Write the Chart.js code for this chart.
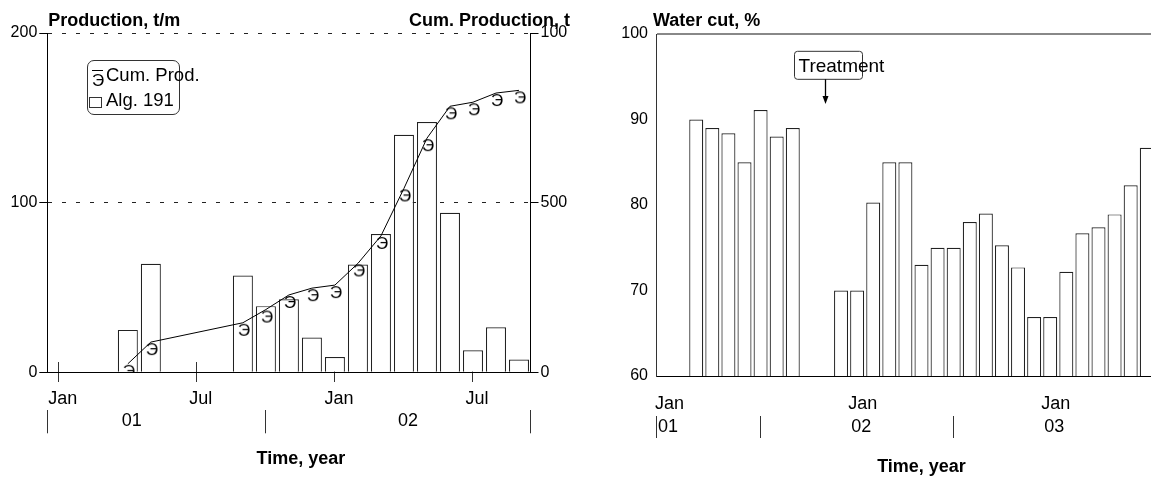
<!DOCTYPE html>
<html>
<head>
<meta charset="utf-8">
<script src="https://cdn.jsdelivr.net/npm/chart.js@4.4.1/dist/chart.umd.min.js"></script>
<style>
  html, body { margin: 0; padding: 0; background: #fff; overflow: hidden; }
  #wrap { position: relative; width: 1151px; height: 479px; overflow: hidden; background: #fff; }
  #c1 { position: absolute; left: 0; top: 0; }
  #c2 { position: absolute; left: 580px; top: 0; }
  .lg { position: absolute; font-family: "Liberation Sans", Arial, sans-serif; color: #000; white-space: nowrap; }
  #lgbox { left: 87px; top: 60px; width: 93px; height: 55px; box-sizing: border-box; border: 1px solid #333; border-radius: 7px; }
  #lgline { left: 92px; top: 70px; width: 11px; height: 0; border-top: 1px solid #000; }
  #lgmark { left: 92px; top: 72px; font-size: 17px; line-height: 18px; }
  #lgtxt1 { left: 106px; top: 65px; font-size: 18.5px; line-height: 20px; }
  #lgsq { left: 89px; top: 97px; width: 13px; height: 11px; box-sizing: border-box; border: 1px solid #333; }
  #lgtxt2 { left: 106px; top: 89.5px; font-size: 18.5px; line-height: 20px; }
</style>
</head>
<body>
<div id="wrap">
  <canvas id="c1" width="575" height="479"></canvas>
  <canvas id="c2" width="617" height="479"></canvas>
  <div class="lg" id="lgbox"></div>
  <div class="lg" id="lgline"></div>
  <div class="lg" id="lgmark">Э</div>
  <div class="lg" id="lgtxt1">Cum. Prod.</div>
  <div class="lg" id="lgsq"></div>
  <div class="lg" id="lgtxt2">Alg. 191</div>
</div>
<script>
// ---------- Left chart data (Jan 01 .. Sep 02, monthly) ----------
const months1 = ['Jan 01','Feb 01','Mar 01','Apr 01','May 01','Jun 01','Jul 01','Aug 01','Sep 01','Oct 01','Nov 01','Dec 01',
                 'Jan 02','Feb 02','Mar 02','Apr 02','May 02','Jun 02','Jul 02','Aug 02','Sep 02'];
const monthTickLabels1 = ['Jan','','','','','','Jul','','','','','','Jan','','','','','','Jul','',''];
const production = [null,null,null,25,64,null,null,null,57,39,43,20.5,9,63.5,81.5,140,147.5,94,13,26.5,7.5];
const cumProduction = [null,null,null,25,89,null,null,null,146,185,228,248,257,321,402,542,690,784,796,823,831];
const prodTicks = [0,100,200];
const cumTicks = [0,500,1000];
const cumTickLabels = ['0','500','100'];
const yearTicks1 = [-0.5,3,9,15,20.5];
const yearLabels1 = ['','01','','02',''];

// ---------- Right chart data (Jan 01 .. Sep 03, monthly) ----------
const months2 = ['Jan 01','Feb 01','Mar 01','Apr 01','May 01','Jun 01','Jul 01','Aug 01','Sep 01','Oct 01','Nov 01','Dec 01',
                 'Jan 02','Feb 02','Mar 02','Apr 02','May 02','Jun 02','Jul 02','Aug 02','Sep 02','Oct 02','Nov 02','Dec 02',
                 'Jan 03','Feb 03','Mar 03','Apr 03','May 03','Jun 03','Jul 03','Aug 03','Sep 03'];
const monthTickLabels2 = ['Jan','','','','','','','','','','','','Jan','','','','','','','','','','','','Jan','','','','','','','',''];
const waterCut = [null,null,90,89,88.4,85,91.1,88,89,null,null,
                  70,70,80.3,85,85,73,75,75,78,79,75.3,72.7,66.9,66.9,72.2,76.7,77.4,78.9,82.3,86.7,null,null];
const waterTicks = [60,70,80,90,100];
const yearTicks2 = [-0.5,0,6,12,18,24];
const yearLabels2 = ['','01','','02','','03'];
const treatmentIdx = 10;
const treatmentArrow = [94.7, 91.8];

const FONT = '"Liberation Sans", Arial, sans-serif';
Chart.defaults.font.family = FONT;
Chart.defaults.color = '#000';

function makeMarker() {
  const c = document.createElement('canvas');
  c.width = 18; c.height = 42;
  const g = c.getContext('2d');
  g.font = '17px ' + FONT;
  g.textAlign = 'center';
  g.textBaseline = 'middle';
  g.fillStyle = '#000';
  g.fillText('Э', 10, 29);
  return c;
}
const marker = makeMarker();

const headerPlugin = {
  id: 'headers',
  afterDraw(chart, args, opts) {
    const ctx = chart.ctx;
    const ca = chart.chartArea;
    ctx.save();
    ctx.font = 'bold 18px ' + FONT;
    ctx.fillStyle = '#000';
    ctx.textBaseline = 'alphabetic';
    if (opts.left) { ctx.textAlign = 'left'; ctx.fillText(opts.left, ca.left + (opts.leftShift || 0), opts.baseline); }
    if (opts.right) { ctx.textAlign = 'right'; ctx.fillText(opts.right, chart.width - opts.rightInset, opts.baseline); }
    if (opts.bottom) {
      ctx.textAlign = 'center';
      ctx.textBaseline = 'middle';
      ctx.fillText(opts.bottom, (ca.left + ca.right) / 2 + (opts.bottomShift || 0), opts.bottomY);
    }
    ctx.restore();
  }
};

const treatmentPlugin = {
  id: 'treatment',
  afterDatasetsDraw(chart) {
    const ctx = chart.ctx;
    const xs = chart.scales.x, ys = chart.scales.y;
    const x = Math.round(xs.getPixelForValue(treatmentIdx)) + 0.5;
    const yTop = ys.getPixelForValue(treatmentArrow[0]);
    const yBot = ys.getPixelForValue(treatmentArrow[1]);
    ctx.save();
    ctx.beginPath();
    ctx.roundRect(x - 31, yTop - 28, 68, 28, 3);
    ctx.fillStyle = '#fff';
    ctx.fill();
    ctx.lineWidth = 1;
    ctx.strokeStyle = '#333';
    ctx.stroke();
    ctx.font = '19px ' + FONT;
    ctx.fillStyle = '#000';
    ctx.textAlign = 'left';
    ctx.textBaseline = 'alphabetic';
    ctx.fillText('Treatment', x - 27, yTop - 7);
    ctx.beginPath();
    ctx.moveTo(x, yTop);
    ctx.lineTo(x, yBot - 6);
    ctx.lineWidth = 1.3;
    ctx.strokeStyle = '#000';
    ctx.stroke();
    ctx.beginPath();
    ctx.moveTo(x - 3, yBot - 8);
    ctx.lineTo(x + 3, yBot - 8);
    ctx.lineTo(x, yBot);
    ctx.closePath();
    ctx.fillStyle = '#000';
    ctx.fill();
    ctx.restore();
  }
};

// ---------- Left chart ----------
new Chart(document.getElementById('c1'), {
  data: {
    labels: months1,
    datasets: [
      {
        type: 'line', label: 'Cum. Prod.', data: cumProduction, yAxisID: 'y1',
        borderColor: '#000', borderWidth: 1, spanGaps: true, tension: 0, fill: false,
        pointStyle: marker, pointRadius: 6, pointHoverRadius: 6, order: 1
      },
      {
        type: 'bar', label: 'Alg. 191', data: production, yAxisID: 'y',
        backgroundColor: '#fff', borderColor: '#222', borderWidth: 1.2,
        categoryPercentage: 0.87, barPercentage: 1, order: 2
      }
    ]
  },
  options: {
    responsive: false, animation: false, events: [],
    layout: { padding: { top: 33, bottom: 0, left: 0, right: 0 } },
    plugins: {
      legend: { display: false }, tooltip: { enabled: false },
      headers: { left: 'Production, t/m', right: 'Cum. Production, t', baseline: 26, rightInset: 5, leftShift: 1,
                 bottom: 'Time, year', bottomShift: 12, bottomY: 459 }
    },
    scales: {
      x: {
        type: 'category', position: 'bottom', offset: true,
        grid: { display: false, offset: false, drawTicks: false },
        border: { display: true, color: '#000', width: 1 },
        ticks: { autoSkip: false, maxRotation: 0, padding: 16, labelOffset: 4, font: { size: 18 }, color: '#000',
                 callback: (v, i) => monthTickLabels1[i] },
        afterFit: s => { s.height = 38; }
      },
      xt: {
        type: 'category', position: { y: 5.8 }, offset: true,
        grid: { offset: false, drawOnChartArea: false, drawTicks: true, tickLength: 20, lineWidth: 1,
                color: ctx => monthTickLabels1[ctx.index] ? '#333' : 'transparent' },
        border: { display: false },
        ticks: { display: false, autoSkip: false }
      },
      xYear: {
        type: 'linear', position: 'bottom', min: -0.5, max: 20.5, offset: false,
        afterBuildTicks: s => { s.ticks = yearTicks1.map(v => ({ value: v })); },
        grid: { offset: false, drawOnChartArea: false, drawTicks: true, tickLength: 23, lineWidth: 1,
                color: ctx => yearLabels1[ctx.index] === '' ? '#333' : 'transparent' },
        border: { display: false },
        ticks: { autoSkip: false, maxRotation: 0, padding: -23, labelOffset: 4, font: { size: 18 }, color: '#000',
                 callback: (v, i) => yearLabels1[i] },
        afterFit: s => { s.height = 68.7; }
      },
      y: {
        type: 'linear', position: 'left', min: 0, max: 200,
        afterBuildTicks: s => { s.ticks = prodTicks.map(v => ({ value: v })); },
        grid: { color: ctx => (ctx.tick && ctx.tick.value === 0) ? 'transparent' : '#222', tickColor: '#000', tickLength: 8, lineWidth: 1 },
        border: { display: true, color: '#000', dash: [4, 10] },
        ticks: { padding: 2, font: { size: 16 }, color: '#000' },
        afterFit: s => { s.width = 47.3; }
      },
      y1: {
        type: 'linear', position: 'right', min: 0, max: 1000,
        afterBuildTicks: s => { s.ticks = cumTicks.map(v => ({ value: v })); },
        grid: { drawOnChartArea: false, color: '#000', tickColor: '#000', tickLength: 8 },
        border: { display: true, color: '#000' },
        ticks: { padding: 2, font: { size: 16 }, color: '#000', callback: (v, i) => cumTickLabels[i] },
        afterFit: s => { s.width = 44.5; }
      }
    }
  },
  plugins: [headerPlugin]
});

// ---------- Right chart ----------
new Chart(document.getElementById('c2'), {
  type: 'bar',
  data: {
    labels: months2,
    datasets: [{
      label: 'Water cut', data: waterCut,
      backgroundColor: '#fff', borderColor: '#222', borderWidth: 1.2,
      categoryPercentage: 0.87, barPercentage: 1
    }]
  },
  options: {
    responsive: false, animation: false, events: [],
    layout: { padding: { top: 34, bottom: 0, left: 0, right: 10 } },
    plugins: {
      legend: { display: false }, tooltip: { enabled: false },
      headers: { left: 'Water cut, %', baseline: 26, leftShift: -3 }
    },
    scales: {
      x: {
        type: 'category', position: 'bottom', offset: true,
        grid: { display: false, offset: false, drawTicks: false },
        border: { display: true, color: '#000', width: 1 },
        ticks: { autoSkip: false, maxRotation: 0, padding: 17, labelOffset: 5.5, font: { size: 18 }, color: '#000',
                 callback: (v, i) => monthTickLabels2[i] },
        afterFit: s => { s.height = 40; }
      },
      xYear: {
        type: 'linear', position: 'bottom', min: -0.5, max: 32.5, offset: false,
        afterBuildTicks: s => { s.ticks = yearTicks2.map(v => ({ value: v })); },
        grid: { offset: false, drawOnChartArea: false, drawTicks: true, tickLength: 22, lineWidth: 1,
                color: ctx => yearLabels2[ctx.index] === '' ? '#333' : 'transparent' },
        border: { display: false },
        ticks: { autoSkip: false, maxRotation: 0, padding: -22, labelOffset: 4, font: { size: 18 }, color: '#000',
                 callback: (v, i) => yearLabels2[i] },
        title: { display: true, text: 'Time, year', font: { size: 18, weight: 'bold' }, color: '#000', padding: { top: 0, bottom: 1 } },
        afterFit: s => { s.height = 63; }
      },
      y: {
        type: 'linear', position: 'left', min: 60, max: 100,
        afterBuildTicks: s => { s.ticks = waterTicks.map(v => ({ value: v })); },
        grid: { drawTicks: false, lineWidth: 2, color: ctx => (ctx.tick && ctx.tick.value === 100) ? '#888' : 'transparent' },
        border: { display: true, color: '#333' },
        ticks: { padding: 8, font: { size: 16 }, color: '#000' },
        afterFit: s => { s.width = 76; }
      }
    }
  },
  plugins: [headerPlugin, treatmentPlugin]
});
</script>
</body>
</html>
